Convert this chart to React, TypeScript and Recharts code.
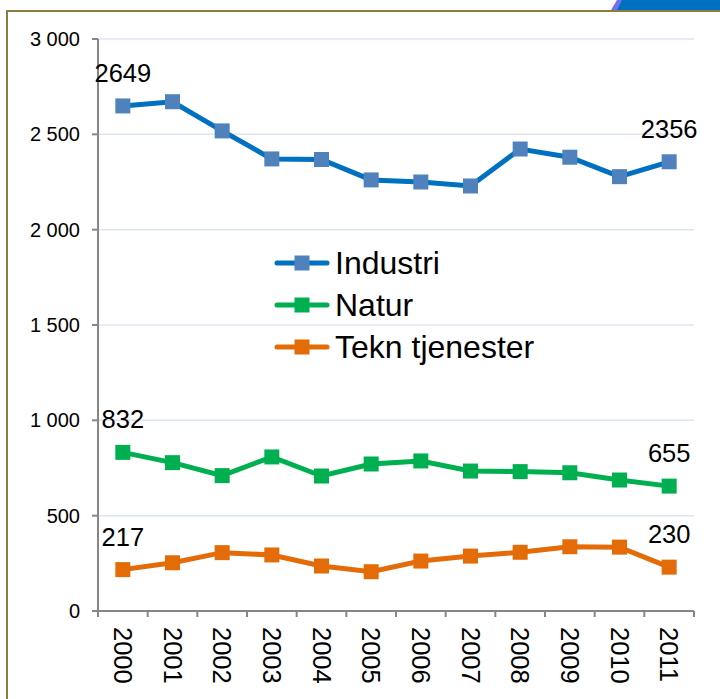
import { LineChart, Line, XAxis, YAxis, CartesianGrid, Legend, LabelList } from 'recharts';

const years = ['2000', '2001', '2002', '2003', '2004', '2005', '2006', '2007', '2008', '2009', '2010', '2011'];
const industri = [2649, 2671, 2518, 2371, 2368, 2261, 2250, 2229, 2423, 2380, 2278, 2356];
const natur = [832, 778, 710, 808, 708, 771, 787, 734, 731, 725, 687, 655];
const tekn = [217, 253, 306, 294, 236, 206, 262, 288, 308, 337, 335, 230];
const yTicks = [0, 500, 1000, 1500, 2000, 2500, 3000];

const data = years.map((year, i) => ({
  year,
  Industri: industri[i],
  Natur: natur[i],
  'Tekn tjenester': tekn[i],
}));

const FONT = '"Liberation Sans", Arial, sans-serif';
const CHART_W = 720;
const CHART_H = 699;
const MARGIN = { top: 39, right: 26, bottom: 0, left: 0 };
const Y_WIDTH = 98;
const BAND = (CHART_W - MARGIN.left - MARGIN.right - Y_WIDTH) / years.length;
const AXIS_COLOR = '#868686';
const TICK_SIZE = 6;
const TICK_MARGIN = 10;

const series = [
  { key: 'Industri', line: '#0070C0', marker: '#4F81BD' },
  { key: 'Natur', line: '#00B050', marker: '#00B050' },
  { key: 'Tekn tjenester', line: '#E36C09', marker: '#E36C09' },
];

const fmt = (v: number) => (v >= 1000 ? `${Math.floor(v / 1000)} ${String(v % 1000).padStart(3, '0')}` : String(v));

const makeDot = (fill: string) => (props: any) => {
  const { cx, cy, index } = props;
  if (cx == null || cy == null) return <g key={`d-${index}`} />;
  return <rect key={`d-${index}`} x={cx - 7.5} y={cy - 7.5} width={15} height={15} fill={fill} />;
};

const EndLabel = (props: any) => {
  const { x, y, value, index } = props;
  if (index !== 0 && index !== years.length - 1) return null;
  return (
    <text x={x} y={y - 24} textAnchor="middle" fontSize={25.5} fontFamily={FONT} fill="#000">
      {value}
    </text>
  );
};

const XTick = (props: any) => {
  const { x, y, payload, index } = props;
  const top = y - TICK_MARGIN - TICK_SIZE;
  return (
    <g>
      <line x1={x - BAND / 2} x2={x - BAND / 2} y1={top} y2={top + TICK_SIZE} stroke={AXIS_COLOR} strokeWidth={2} />
      {index === years.length - 1 && (
        <line x1={x + BAND / 2} x2={x + BAND / 2} y1={top} y2={top + TICK_SIZE} stroke={AXIS_COLOR} strokeWidth={2} />
      )}
      <text
        x={x}
        y={y}
        transform={`rotate(90, ${x}, ${y})`}
        textAnchor="start"
        dominantBaseline="central"
        fontSize={25.5}
        fontFamily={FONT}
        fill="#000"
      >
        {payload.value}
      </text>
    </g>
  );
};

const LegendBox = () => (
  <div style={{ fontFamily: FONT, fontSize: 32, color: '#000' }}>
    {series.map((s) => (
      <div key={s.key} style={{ display: 'flex', alignItems: 'center', height: 42 }}>
        <svg width={56} height={20} style={{ marginRight: 5 }}>
          <line x1={3} x2={53} y1={10} y2={10} stroke={s.line} strokeWidth={5} strokeLinecap="round" />
          <rect x={20.5} y={2.5} width={15} height={15} fill={s.marker} />
        </svg>
        <span>{s.key}</span>
      </div>
    ))}
  </div>
);

export default function App() {
  return (
    <div style={{ position: 'absolute', left: 0, top: 0, width: CHART_W, height: CHART_H, background: '#fff', overflow: 'hidden' }}>
      <div
        style={{
          position: 'absolute',
          left: 611,
          top: 0,
          width: 109,
          height: 10,
          background: '#7070F0',
          clipPath: 'polygon(0 100%, 6px 0, 100% 0, 100% 100%)',
        }}
      />
      <div
        style={{
          position: 'absolute',
          left: 617,
          top: 0,
          width: 103,
          height: 10,
          background: '#0070C0',
          clipPath: 'polygon(0 100%, 5px 0, 100% 0, 100% 100%)',
        }}
      />
      <div
        style={{
          position: 'absolute',
          left: 6,
          top: 10,
          width: CHART_W - 6,
          height: CHART_H - 10,
          borderTop: '2px solid #8B7D3A',
          borderLeft: '2px solid #8B7D3A',
          boxSizing: 'border-box',
        }}
      />
      <div style={{ position: 'absolute', left: 0, top: 0 }}>
        <LineChart width={CHART_W} height={CHART_H} data={data} margin={MARGIN}>
          <CartesianGrid vertical={false} stroke="#DCE6F2" strokeWidth={1.5} />
          <XAxis
            dataKey="year"
            height={88}
            interval={0}
            padding={{ left: BAND / 2, right: BAND / 2 }}
            tickSize={TICK_SIZE}
            tickMargin={TICK_MARGIN}
            tickLine={false}
            axisLine={{ stroke: AXIS_COLOR, strokeWidth: 2 }}
            tick={<XTick />}
          />
          <YAxis
            width={Y_WIDTH}
            domain={[0, 3000]}
            ticks={yTicks}
            interval={0}
            tickFormatter={fmt}
            tickSize={TICK_SIZE}
            tickMargin={12}
            axisLine={{ stroke: AXIS_COLOR, strokeWidth: 2 }}
            tickLine={{ stroke: AXIS_COLOR, strokeWidth: 2 }}
            tick={{ fill: '#000', fontSize: 20, fontFamily: FONT }}
          />
          <Legend
            layout="horizontal"
            align="center"
            verticalAlign="middle"
            content={<LegendBox />}
            wrapperStyle={{ position: 'absolute', left: 274, top: 242, width: 330, height: 126 }}
          />
          {series.map((s) => (
            <Line
              key={s.key}
              type="linear"
              dataKey={s.key}
              stroke={s.line}
              strokeWidth={5}
              dot={makeDot(s.marker)}
              activeDot={false}
              isAnimationActive={false}
            >
              <LabelList dataKey={s.key} content={<EndLabel />} />
            </Line>
          ))}
        </LineChart>
      </div>
    </div>
  );
}
